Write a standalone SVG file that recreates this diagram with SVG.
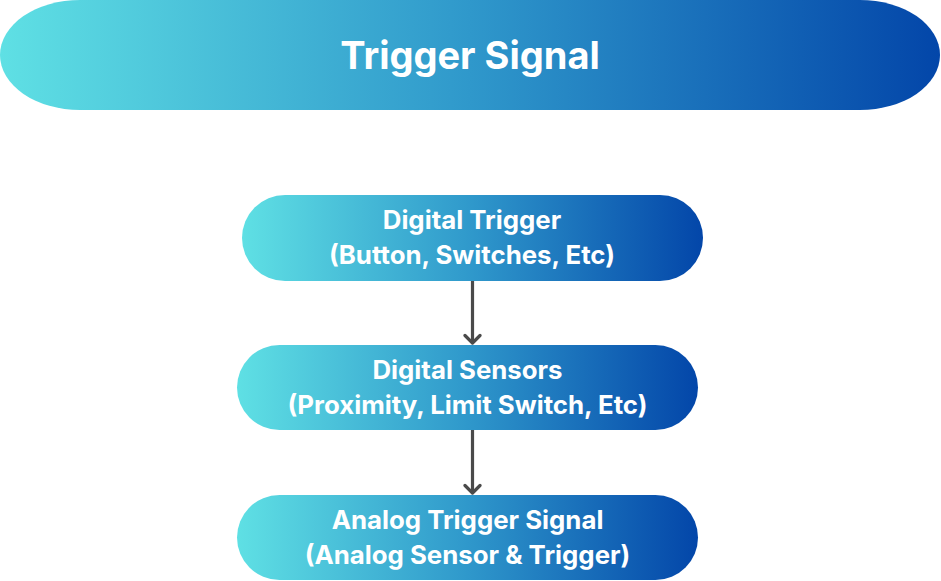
<svg xmlns="http://www.w3.org/2000/svg" width="941" height="581" viewBox="0 0 941 581">
<defs>
<linearGradient id="g" x1="0" y1="0" x2="1" y2="0">
<stop offset="0" stop-color="#5fe0e4"/>
<stop offset="0.5" stop-color="#2f98cb"/>
<stop offset="1" stop-color="#0346a9"/>
</linearGradient>
<marker id="ah" viewBox="0 0 20 20" refX="10" refY="17" markerWidth="20" markerHeight="20" markerUnits="userSpaceOnUse" orient="0">
<path d="M2.5,9.5 L10,17 L17.5,9.5" fill="none" stroke="#4a4a4a" stroke-width="3.2" stroke-linecap="round" stroke-linejoin="round"/>
</marker>
<style>
.box{fill:url(#g);}
.t{font-family:Inter,"Liberation Sans",sans-serif;font-weight:700;fill:#ffffff;text-anchor:middle;}
.tl{font-size:38px;}
.nb{font-size:25.8px;}
.c{stroke:#4a4a4a;stroke-width:3.2;fill:none;}
</style>
</defs>
<g id="title">
<rect class="box" x="0" y="0" width="940" height="110" rx="80" ry="55"/>
<text class="t tl" x="470" y="69">Trigger Signal</text>
</g>
<g id="connectors">
<line class="c" x1="472.5" y1="281" x2="472.5" y2="343" marker-end="url(#ah)"/>
<line class="c" x1="472.5" y1="430" x2="472.5" y2="493" marker-end="url(#ah)"/>
</g>
<g id="digital-trigger">
<rect class="box" x="242" y="195" width="461" height="86" rx="43"/>
<text class="t nb" x="472" y="229">Digital Trigger</text>
<text class="t nb" x="472" y="264">(Button, Switches, Etc)</text>
</g>
<g id="digital-sensors">
<rect class="box" x="237" y="345" width="461" height="85" rx="42.5"/>
<text class="t nb" x="467.5" y="379">Digital Sensors</text>
<text class="t nb" x="467.5" y="414">(Proximity, Limit Switch, Etc)</text>
</g>
<g id="analog-trigger">
<rect class="box" x="237" y="495" width="461" height="85" rx="42.5"/>
<text class="t nb" x="467.5" y="529">Analog Trigger Signal</text>
<text class="t nb" x="467.5" y="564">(Analog Sensor &amp; Trigger)</text>
</g>
</svg>
